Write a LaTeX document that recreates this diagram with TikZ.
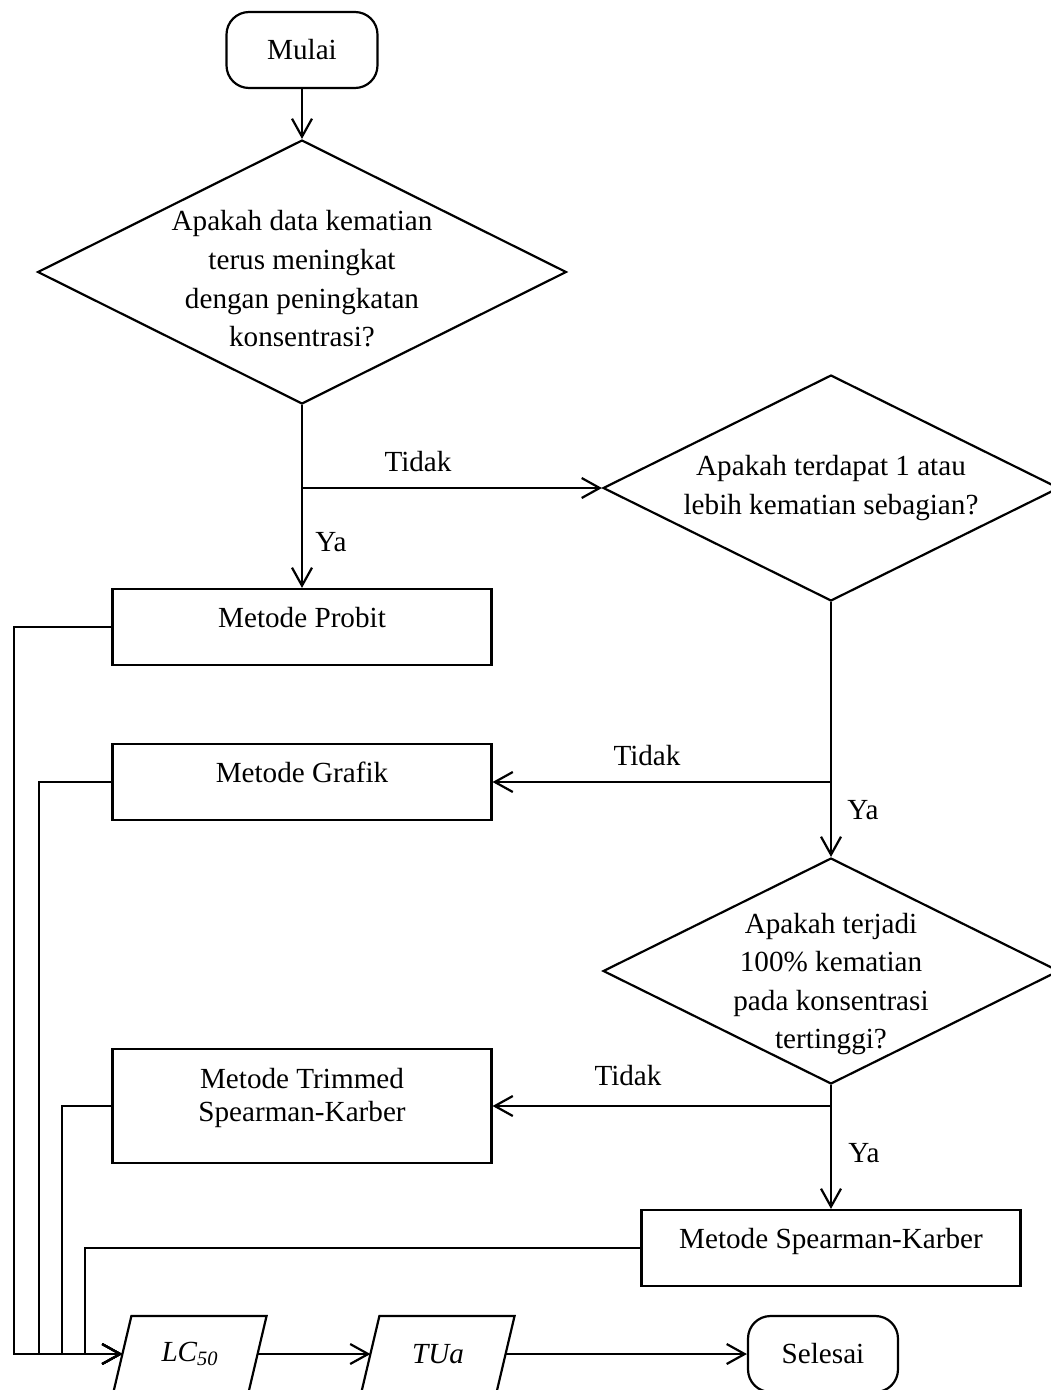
\documentclass[tikz,border=0pt]{standalone}
\usepackage{fontspec}
\setmainfont{Liberation Serif}
\usetikzlibrary{shapes.geometric,arrows.meta}

\begin{document}
\begin{tikzpicture}[
        % pixel grid of the page, y running downwards
        x=0.02cm, y=-0.02cm,
        font=\fontsize{16.6pt}{22pt}\selectfont,
        line width=1.25pt,
        %
        terminal/.style={draw, rounded corners=0.45cm,
            minimum width=3.02cm, minimum height=1.52cm},
        decision/.style={draw, diamond, inner sep=0pt},
        process/.style={draw, rectangle, minimum width=7.58cm,
            minimum height=1.52cm, text height=0.45cm, text depth=0.45cm},
        io/.style={rectangle, minimum width=2.66cm, minimum height=1.48cm},
        qtext/.style={align=center},
        flow/.style={-{Straight Barb[length=0.36cm, width=0.4cm]}}
    ]

        % Fix the page size
        \useasboundingbox (0,0) rectangle (1051,1390);

        % Define the slant of the data boxes
        \def\slant{0.18cm}

        % Start
        \node[terminal] (start) at (302,50) {Mulai};

        % First question
        \node[decision, minimum width=10.58cm, minimum height=5.28cm]
            (q1) at (302,272) {};
        \node[qtext] (q1t) at ([yshift=-0.14cm]q1.center)
            {Apakah data kematian\\terus meningkat\\dengan peningkatan\\konsentrasi?};

        % Second question
        \node[decision, minimum width=9.12cm, minimum height=4.52cm]
            (q2) at (831,488) {};
        \node[qtext] (q2t) at (q2.center)
            {Apakah terdapat 1 atau\\lebih kematian sebagian?};

        % Third question
        \node[decision, minimum width=9.12cm, minimum height=4.52cm]
            (q3) at (831,971) {};
        \node[qtext] (q3t) at ([yshift=-0.26cm]q3.center)
            {Apakah terjadi\\100\% kematian\\pada konsentrasi\\tertinggi?};

        % Methods
        \node[process] (probit) at (302,627) {Metode Probit};
        \node[process] (grafik) at (302,782) {Metode Grafik};
        \node[process, minimum height=2.28cm] (trimmed) at (302,1106) {};
        \node[qtext, font=\fontsize{16.6pt}{19pt}\selectfont] (trimmedt)
            at ([yshift=0.16cm]trimmed.center) {Metode Trimmed\\Spearman-Karber};
        \node[process] (spearman) at (831,1248) {Metode Spearman-Karber};

        % Results and end
        \node[io] (lc) at (190,1354) {\textit{LC\textsubscript{50}}};
        \node[io] (tua) at (438,1354) {\textit{TUa}};
        \node[terminal, minimum width=3.0cm] (stop) at (823,1354) {Selesai};

        % Draw the slanted data boxes
        \foreach \io in {lc, tua}
            \draw ([xshift=\slant]\io.north west) --
                  ([xshift=\slant]\io.north east) --
                  ([xshift=-\slant]\io.south east) --
                  ([xshift=-\slant]\io.south west) -- cycle;

        % Main flow
        \draw[flow] (start.south) -- (q1.north);
        \draw[flow] (q1.south) -- (probit.north);
        \coordinate (j1) at (q1.south |- q2.west);
        \draw[flow] (j1) -- (q2.west);
        \draw[flow] (q2.south) -- (q3.north);
        \coordinate (j2) at (q2.south |- grafik.east);
        \draw[flow] (j2) -- (grafik.east);
        \draw[flow] (q3.south) -- (spearman.north);
        \coordinate (j3) at (q3.south |- trimmed.east);
        \draw[flow] (j3) -- (trimmed.east);

        % Answers
        \node (no1) at (418,462) {Tidak};
        \node (yes1) at (331,542) {Ya};
        \node (no2) at (647,756) {Tidak};
        \node (yes2) at (863,810) {Ya};
        \node (no3) at (628,1076) {Tidak};
        \node (yes3) at (864,1153) {Ya};

        % Every method leads to LC50
        \foreach \src/\bx in {probit/14, grafik/39, trimmed/62, spearman/85}
            \draw[flow] (\src.west) -| (\bx,0 |- lc.west) -- (lc.west);

        \draw[flow] (lc.east) -- (tua.west);
        \draw[flow] (tua.east) -- (stop.west);

    \end{tikzpicture}
\end{document}
